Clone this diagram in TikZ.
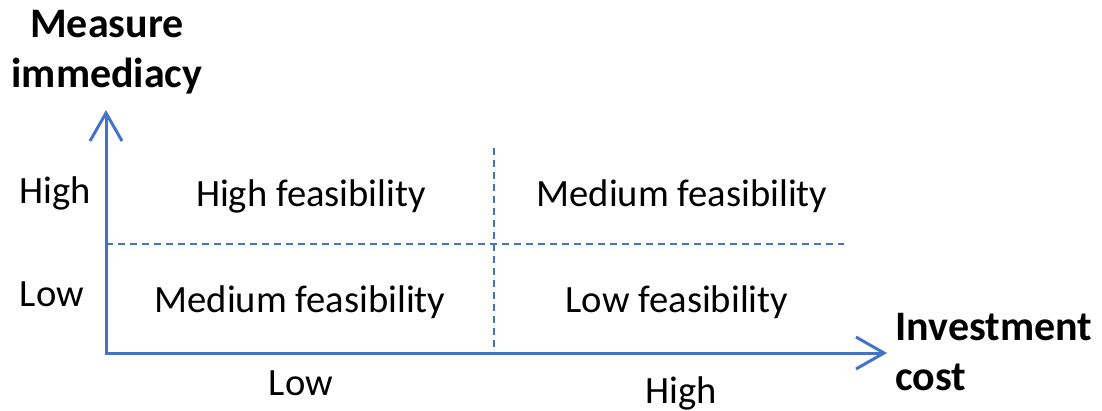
\documentclass[tikz,border=0pt]{standalone}
\usepackage{fontspec}
\setmainfont{Carlito}
\usetikzlibrary{arrows.meta, positioning}
\definecolor{axisblue}{HTML}{4472C4}

\begin{document}
\begin{tikzpicture}[x=0.5pt, y=-0.5pt,
  axis/.style={draw=axisblue, line width=1.5pt, line join=miter},
  divider/.style={draw=axisblue, line width=0.75pt, dash pattern=on 3.5pt off 2.5pt},
  cell/.style={font=\fontsize{19.3}{23}\selectfont, anchor=base, inner sep=0pt},
  axistitle/.style={font=\fontsize{21}{25}\selectfont\bfseries, inner sep=0pt}]
\useasboundingbox (0,0) rectangle (1102,411);

% Axes
\coordinate (origin) at (106,353);
\coordinate (ytip) at (106,110);
\coordinate (xtip) at (887,353);
\draw[axis, {Straight Barb[length=14pt,width=16pt]}-{Straight Barb[length=14pt,width=16pt]}] (ytip) -- (origin) -- (xtip);

% Dashed dividers
\coordinate (hleft) at (106,244);
\coordinate (hright) at (844,244);
\coordinate (vtop) at (494,148);
\coordinate (vbot) at (494,353);
\draw[divider] (hleft) -- (hright);
\draw[divider] (vtop) -- (vbot);

% Quadrant labels
\node[cell] (lowcosthigh) at (311,206) {High feasibility};
\node[cell] (highcosthigh) at (682,206) {Medium feasibility};
\node[cell] (lowcostlow) at (300,312) {Medium feasibility};
\node[cell] (highcostlow) at (677,312) {Low feasibility};

% Axis levels
\node[cell] (yhigh) at (55,204) {High};
\node[cell] (ylow) at (52,306) {Low};
\node[cell] (xlow) at (301,395) {Low};
\node[cell] (xhigh) at (681,403) {High};

% Axis titles (base = last line)
\node[axistitle, align=center, anchor=base] (ytitle) at (107,88) {Measure\\immediacy};
\node[axistitle, align=left, anchor=base west] (xtitle) at (895,390) {Investment\\cost};
\end{tikzpicture}
\end{document}
